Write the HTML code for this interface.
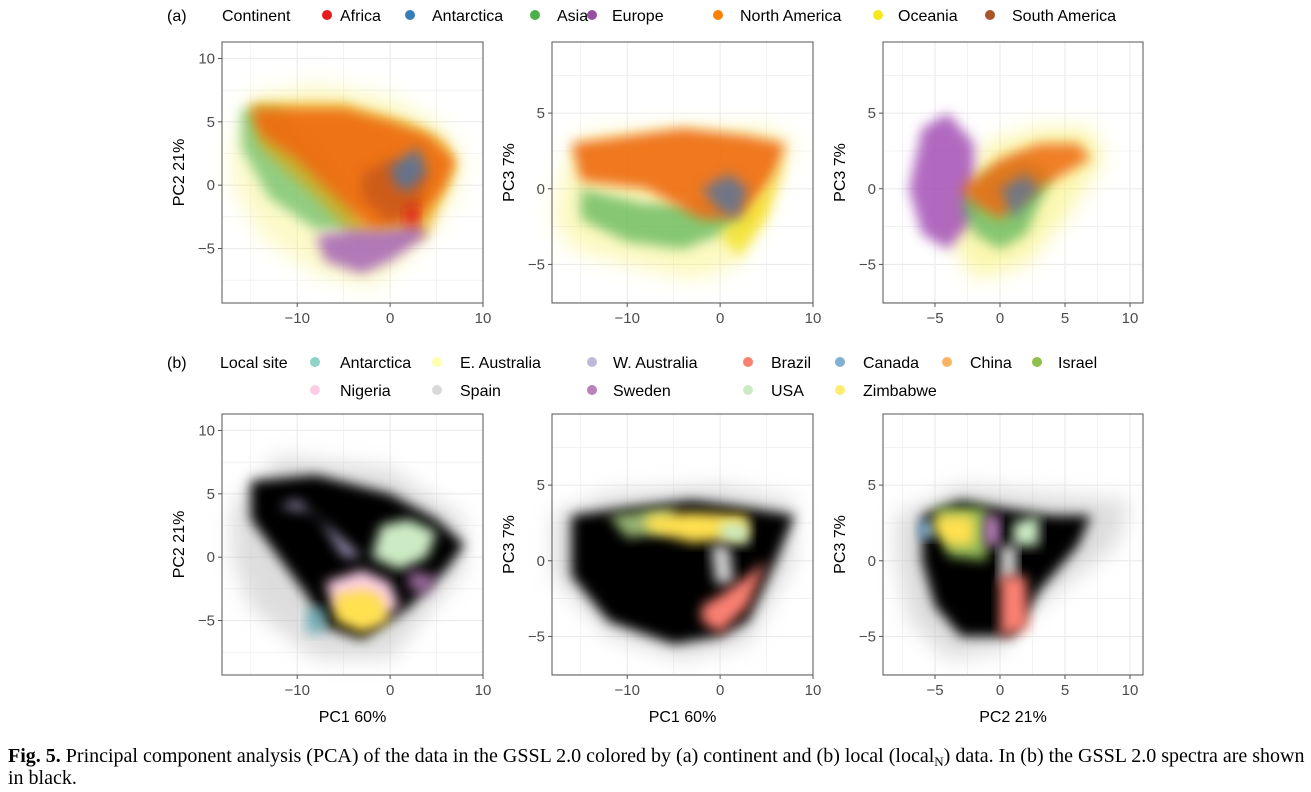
<!DOCTYPE html>
<html><head><meta charset="utf-8">
<style>
body{margin:0;background:#fff;}
svg{display:block;font-family:"Liberation Sans",sans-serif;}
</style></head>
<body>
<svg id="fig" width="1311" height="792" viewBox="0 0 1311 792">
<defs>
<filter id="blur" x="-30%" y="-30%" width="160%" height="160%"><feGaussianBlur stdDeviation="6"/></filter>
<filter id="blur2" x="-30%" y="-30%" width="160%" height="160%"><feGaussianBlur stdDeviation="10"/></filter>
</defs>
<g id="legends">
<text x="167" y="21" font-size="16">(a)</text>
<text x="222" y="21" font-size="16">Continent</text>
<text x="167" y="368" font-size="16">(b)</text>
<text x="220" y="368" font-size="16">Local site</text>
</g>
<text x="8" y="762" font-family="Liberation Serif,serif" font-size="20"><tspan font-weight="bold">Fig. 5.</tspan> Principal component analysis (PCA) of the data in the GSSL 2.0 colored by (a) continent and (b) local (local<tspan font-size="13" dy="4">N</tspan><tspan dy="-4">) data. In (b) the GSSL 2.0 spectra are shown</tspan></text>
<text x="8" y="784" font-family="Liberation Serif,serif" font-size="20">in black.</text>
</svg>
<script>
const NS="http://www.w3.org/2000/svg";
const svg=document.getElementById('fig');
// ---- data ----
const legendA=[["Africa","#E41A1C",327,340],["Antarctica","#377EB8",410,432],["Asia","#4DAF4A",535,557],["Europe","#984EA3",592,612],["North America","#FF7F00",718,740],["Oceania","#F7E81E",878,898],["South America","#A65628",990,1012]];
const legendB=[["Antarctica","#8DD3C7",315,340,362],["E. Australia","#FFFFB3",437,460,362],["W. Australia","#BEBADA",592,613,362],["Brazil","#FB8072",748,771,362],["Canada","#80B1D3",840,863,362],["China","#FDB462",947,970,362],["Israel","#8FBF4A",1037,1058,362],["Nigeria","#FCCDE5",315,340,390],["Spain","#D9D9D9",437,460,390],["Sweden","#BC80BD",592,613,390],["USA","#CCEBC5",748,771,390],["Zimbabwe","#FFED6F",840,863,390]];
const xTicksPC1=[-10,0,10];
const xTicksPC2=[-5,0,5,10];
const yTicksPC2=[-5,0,5,10];
const yTicksPC3=[-5,0,5];
// cloud hulls in data units: [color, opacity, blurId, points]
const a1=[["#F7F060",0.35,"blur2",[[-17,3],[-15,7],[-8,8],[0,7],[5,5],[8,2],[7,-1],[3,-5],[-2,-8],[-8,-7],[-14,-4],[-17,0]]],
 ["#6DBF6A",0.75,"blur",[[-16,6],[-12,6],[-8,3],[-4,-1],[-3,-3.5],[-8,-3.5],[-13,-1],[-16,3]]],
 ["#E8A000",0.6,"blur",[[-15,6.5],[-5,6.5],[2,5],[6,3.5],[7,1.5],[4,-4],[-4,-4],[-8,-1],[-14,3]]],
 ["#EE6A10",0.9,"blur",[[-15,6],[-10,6],[-5,6],[0,5],[4,4],[7,2],[6,0],[3,-3],[-2,-3.5],[-5,-1.5],[-10,2],[-14,4]]],
 ["#C0531A",0.7,"blur",[[-3,1],[0,2],[4,1],[3,-2],[0,-3],[-3,-1]]],
 ["#A463B4",0.85,"blur",[[-8,-4],[-4,-3.5],[0,-3.5],[3,-3],[4,-4],[0,-6],[-3,-7],[-7,-6]]],
 ["#5A7598",0.9,"blur",[[0,1.5],[3,3],[4,1],[2,-0.5],[0.5,0]]],
 ["#E41A1C",0.9,"blur",[[1.5,-2],[3,-1.5],[3,-3],[2,-3.3]]]];
const a2=[["#F7F060",0.4,"blur2",[[-17,1],[-15,3.5],[-5,4],[5,4],[8,3],[6,0],[2,-5],[-3,-6],[-10,-5],[-16,-4],[-18,-2]]],
 ["#5DB55A",0.75,"blur",[[-15,-2],[-10,-3.5],[-4,-4],[0,-3],[3,-2],[0,-1],[-8,-1],[-15,0]]],
 ["#EE6A10",0.9,"blur",[[-16,3],[-10,3.5],[-4,4],[3,3.5],[7,3],[6,1],[3,-2],[-2,-2],[-8,0],[-15,0.5]]],
 ["#F4E020",0.8,"blur",[[0,-3],[2,-4.5],[5,-2],[7,2],[5,0]]],
 ["#5A7598",0.85,"blur",[[-2,0],[1,1],[3,0],[2,-2],[0,-1.5]]]];
const a3=[["#F7F060",0.5,"blur2",[[-4,-3],[-2,-6],[2,-5],[5,-2],[8,2],[7,4],[3,4],[-1,3],[-3,0]]],
 ["#A34FB5",0.85,"blur",[[-6,4],[-4,5],[-2,3],[-2,-2],[-4,-4],[-6,-3],[-7,0]]],
 ["#5DB55A",0.75,"blur",[[-3,-1],[-1,1],[2,2],[4,1],[2,-3],[0,-4],[-2,-3]]],
 ["#EE6A10",0.85,"blur",[[-3,0],[0,2],[3,3],[6,3],[7,2],[3,0],[0,-2],[-2,-1]]],
 ["#5A7598",0.8,"blur",[[0,0],[2,1],[3,0],[1,-2]]]];
const b1=[["#BBBBBB",0.5,"blur2",[[-17,4],[-12,8],[0,7],[8,3],[8,-1],[0,-8],[-8,-8],[-15,-4],[-17,0]]],
 ["#000000",1,"blur",[[-15,6],[-8,6.5],[0,5],[5,3],[8,1],[6,-1],[2,-4],[-3,-6.5],[-7,-5.5],[-9,-3],[-12,0],[-15,3]]],
 ["#B4A8D0",0.9,"blur",[[-12,4],[-8,3.5],[-5,0],[-3,0],[-6,2],[-10,4.5]]],
 ["#CCEBC5",1,"blur",[[-1,2.5],[2,3],[5,2],[4,0],[1,-1],[-2,0]]],
 ["#BC80BD",0.8,"blur",[[2,-1],[5,-1.5],[4,-3],[2,-2.5]]],
 ["#FCCDE5",1,"blur",[[-7,-2],[-3,-1],[0,-2],[1,-4],[-2,-5],[-6,-4]]],
 ["#FFE04F",1,"blur",[[-6,-3],[-3,-2.5],[-1,-3],[0,-5],[-3,-6],[-6,-5]]],
 ["#5FA8B0",0.8,"blur",[[-9,-4],[-7,-4],[-7,-6],[-9,-6]]]];
const b2=[["#BBBBBB",0.5,"blur2",[[-18,3],[-12,4.5],[0,5],[8,4],[8,0],[3,-5.5],[-4,-6.5],[-12,-5],[-18,-1]]],
 ["#000000",1,"blur",[[-16,3],[-10,3.5],[-3,4],[3,3.5],[8,3],[6,0],[3,-4],[0,-5],[-5,-5.5],[-12,-4],[-16,-1]]],
 ["#A6C880",0.9,"blur",[[-12,3],[-5,3.5],[-5,2],[-10,1.5]]],
 ["#FFE04F",1,"blur",[[-8,3],[-3,3.2],[3,3],[3,1.5],[-3,1.2],[-8,2]]],
 ["#CCEBC5",1,"blur",[[0,2.5],[3,2.5],[3,1],[0,1.5]]],
 ["#D0D0D0",1,"blur",[[-1,1],[1,1],[1.5,-1.5],[-0.5,-1.5]]],
 ["#FB8072",1,"blur",[[-2,-4],[0,-4.8],[3,-3],[5,0],[3,-1],[0,-2.3],[-2,-3]]]];
const b3=[["#BBBBBB",0.5,"blur2",[[-8,3],[-3,5],[3,4.5],[10,4],[9,1],[3,-3],[0,-6],[-4,-6.5],[-7,-4],[-8,0]]],
 ["#000000",1,"blur",[[-6,3],[-3,4],[0,3.5],[4,3],[7,3],[6,1],[3,-2],[1,-5],[-3,-5],[-5,-3],[-6,0]]],
 ["#7FB3D8",1,"blur",[[-6.3,2.5],[-5,2.7],[-5,1.5],[-6.3,1.5]]],
 ["#9FCB60",0.9,"blur",[[-5,3.5],[-1,3.5],[-1,0],[-4,0.3]]],
 ["#FFE04F",1,"blur",[[-5,3],[-2,3],[-2,1],[-4,1],[-5,2]]],
 ["#BC80BD",1,"blur",[[-1.2,3],[0,3],[0,1],[-1.2,1]]],
 ["#CCEBC5",1,"blur",[[1,2.5],[3,3],[3,1],[1,1]]],
 ["#D0D0D0",1,"blur",[[0,1],[1.3,1],[1.3,-1.3],[0,-1.3]]],
 ["#FB8072",1,"blur",[[0,-1],[2,-1],[2.2,-4.5],[0,-5]]]];
// ---- panels ----
const cols=[{x0:222,x1:483,d:[-18.1,10.0],ticks:xTicksPC1,title:"PC1 60%"},
            {x0:552,x1:813,d:[-18.1,10.0],ticks:xTicksPC1,title:"PC1 60%"},
            {x0:883,x1:1143,d:[-9.0,11.0],ticks:xTicksPC2,title:"PC2 21%"}];
const rowsY=[{y0:42,y1:303},{y0:414,y1:675}];
const yDom=[{d:[-9.3,11.3],ticks:yTicksPC2,title:"PC2 21%"},{d:[-7.55,9.7],ticks:yTicksPC3,title:"PC3 7%"},{d:[-7.55,9.7],ticks:yTicksPC3,title:"PC3 7%"}];
const clouds=[[a1,a2,a3],[b1,b2,b3]];
function mk(t,a,p){const e=document.createElementNS(NS,t);for(const k in a)e.setAttribute(k,a[k]);(p||svg).appendChild(e);return e;}
for(let r=0;r<2;r++)for(let c=0;c<3;c++){
 const C=cols[c],R=rowsY[r],Y=yDom[c];
 const sx=v=>C.x0+(v-C.d[0])/(C.d[1]-C.d[0])*(C.x1-C.x0);
 const sy=v=>R.y1-(v-Y.d[0])/(Y.d[1]-Y.d[0])*(R.y1-R.y0);
 const g=mk('g',{});
 
 
 const step=C.ticks[1]-C.ticks[0];
 for(let v=Math.ceil(C.d[0]/(step/2))*(step/2);v<=C.d[1];v+=step/2){const l=mk('line',{x1:sx(v),x2:sx(v),y1:R.y0,y2:R.y1,stroke:'#ebebeb','stroke-width':(Math.abs(v/step-Math.round(v/step))<1e-6)?1.1:0.6},g);}
 const ys=Y.ticks[1]-Y.ticks[0];
 for(let v=Math.ceil(Y.d[0]/(ys/2))*(ys/2);v<=Y.d[1];v+=ys/2){const l=mk('line',{x1:C.x0,x2:C.x1,y1:sy(v),y2:sy(v),stroke:'#ebebeb','stroke-width':(Math.abs(v/ys-Math.round(v/ys))<1e-6)?1.1:0.6},g);}
 const cg=mk('g',{},g);
 
 
 for(const [col,op,f,pts] of clouds[r][c]){
  const p=mk('polygon',{points:pts.map(q=>sx(q[0])+','+sy(q[1])).join(' '),fill:col,'fill-opacity':op,filter:'url(#'+f+')'},cg);
  
  
 }
 const b=mk('rect',{x:C.x0,y:R.y0,width:C.x1-C.x0,height:R.y1-R.y0,fill:'none',stroke:'#555','stroke-width':1},g);
 
 
 for(const v of C.ticks){
  mk('line',{x1:sx(v),x2:sx(v),y1:R.y1,y2:R.y1+4,stroke:'#555'},g);
  const t=mk('text',{x:sx(v),y:R.y1+20,'font-size':15,fill:'#4d4d4d','text-anchor':'middle'},g);t.textContent=(v<0?'\u2212'+(-v):v);
  
 }
 for(const v of Y.ticks){
  mk('line',{x1:C.x0-4,x2:C.x0,y1:sy(v),y2:sy(v),stroke:'#555'},g);
  const t=mk('text',{x:C.x0-7,y:sy(v)+5,'font-size':15,fill:'#4d4d4d','text-anchor':'end'},g);t.textContent=(v<0?'\u2212'+(-v):v);
  
 }
 const yt=mk('text',{transform:`translate(${C.x0-38},${(R.y0+R.y1)/2}) rotate(-90)`,'font-size':16,'text-anchor':'middle'},g);yt.textContent=Y.title;
 
 if(r===1){const xt=mk('text',{x:(C.x0+C.x1)/2,y:722,'font-size':16,'text-anchor':'middle'},g);xt.textContent=C.title;
 }
}
for(const [n,col,dx,tx] of legendA){
 const d=mk('circle',{cx:dx,cy:15,r:5,fill:col});
 
 const t=mk('text',{x:tx,y:21,'font-size':16});t.textContent=n;
 
}
for(const [n,col,dx,tx,y] of legendB){
 const d=mk('circle',{cx:dx,cy:y,r:5,fill:col});
 
 const t=mk('text',{x:tx,y:y+6,'font-size':16});t.textContent=n;
 
}
</script>
</body></html>
